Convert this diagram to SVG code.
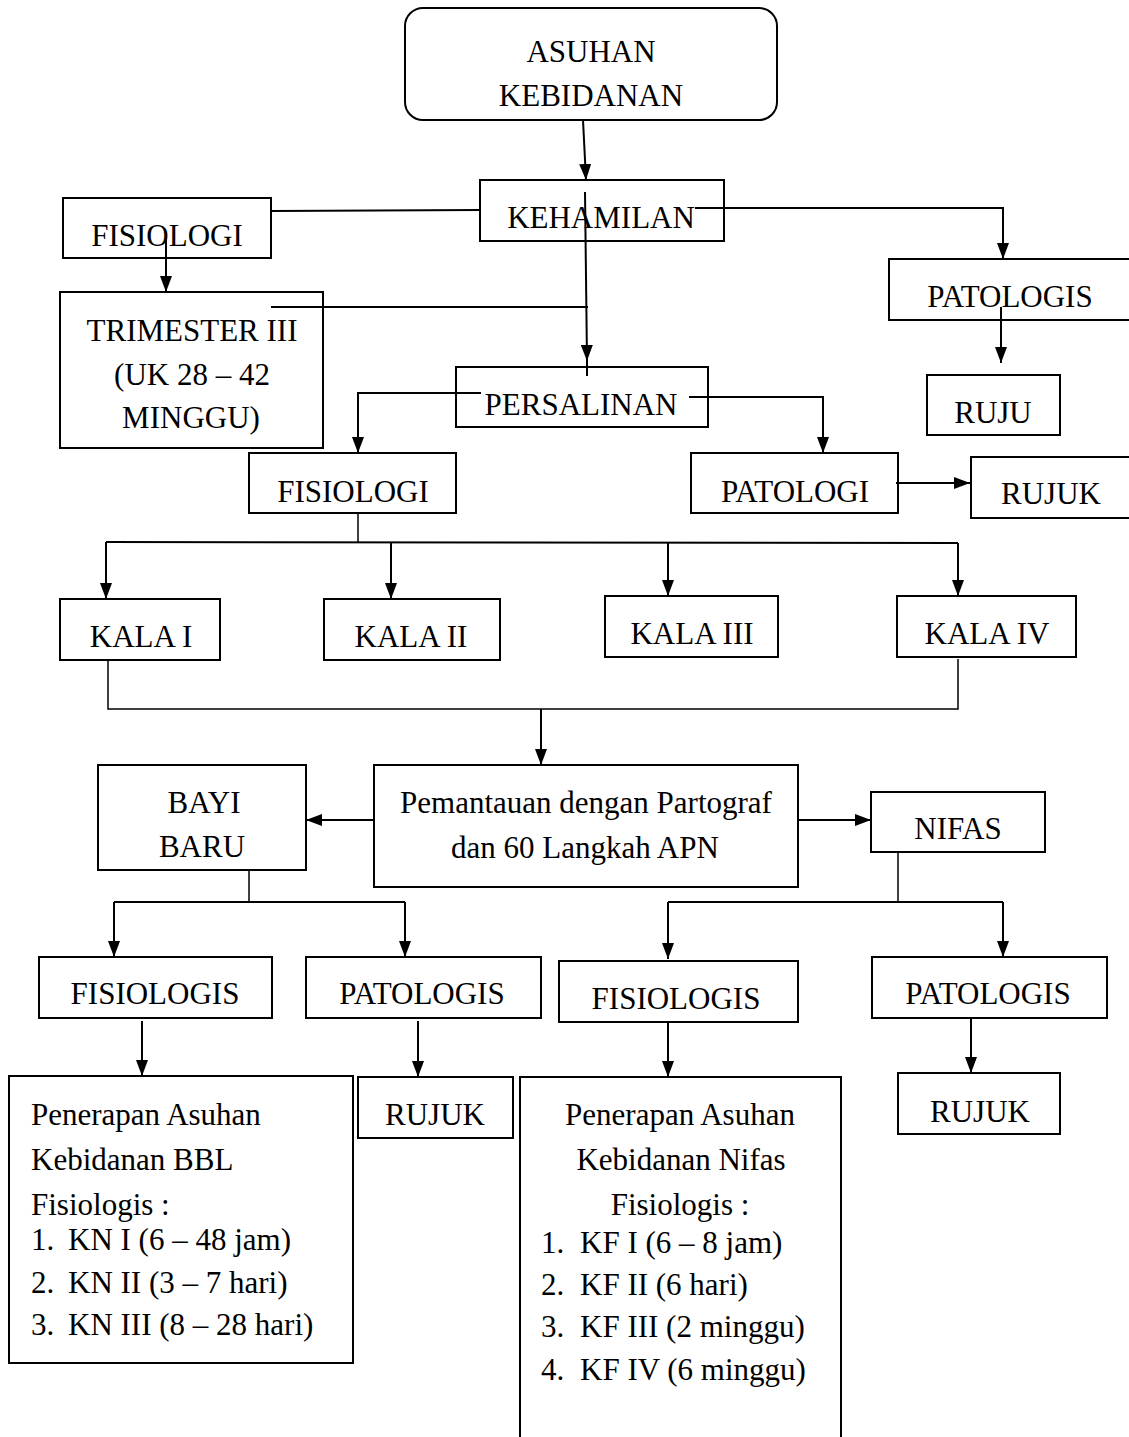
<svg xmlns="http://www.w3.org/2000/svg" width="1129" height="1437" viewBox="0 0 1129 1437">
<style>
.box{fill:#fff;stroke:#000;stroke-width:2}
.t{font-family:"Liberation Serif","Times New Roman",serif;font-size:31px;fill:#000}
.c{text-anchor:middle}
.ln{fill:none;stroke:#000;stroke-width:2}
.thin{fill:none;stroke:#000;stroke-width:1.5}
.ar{marker-end:url(#ah)}
</style>
<defs>
<marker id="ah" viewBox="0 0 16 12" refX="16" refY="6" markerWidth="16" markerHeight="12" markerUnits="userSpaceOnUse" orient="auto">
<path d="M0,0 L16,6 L0,12 z" fill="#000"/>
</marker>
</defs>
<rect width="1129" height="1437" fill="#fff"/>

<g id="n-asuhan"><rect class="box" x="405" y="8" width="372" height="112" rx="18"/>
<text class="t c" x="591" y="62">ASUHAN</text><text class="t c" x="591" y="106">KEBIDANAN</text></g>
<g id="n-kehamilan"><rect class="box" x="480" y="180" width="244" height="61"/><text class="t c" x="601" y="228">KEHAMILAN</text></g>
<g id="n-fisiologi1"><rect class="box" x="63" y="198" width="208" height="60"/><text class="t c" x="167" y="246">FISIOLOGI</text></g>
<g id="n-trimester"><rect class="box" x="60" y="292" width="263" height="156"/>
<text class="t c" x="192" y="341">TRIMESTER III</text><text class="t c" x="192" y="385">(UK 28 – 42</text><text class="t c" x="191" y="428">MINGGU)</text></g>
<g id="n-patologis1"><rect class="box" x="889" y="259" width="245" height="61"/><text class="t c" x="1010" y="307">PATOLOGIS</text></g>
<g id="n-ruju"><rect class="box" x="927" y="375" width="133" height="60"/><text class="t c" x="993" y="423">RUJU</text></g>
<g id="n-persalinan"><rect class="box" x="456" y="367" width="252" height="60"/><text class="t c" x="581" y="415">PERSALINAN</text></g>
<g id="n-fisiologi2"><rect class="box" x="249" y="453" width="207" height="60"/><text class="t c" x="353" y="502">FISIOLOGI</text></g>
<g id="n-patologi"><rect class="box" x="691" y="453" width="207" height="60"/><text class="t c" x="795" y="502">PATOLOGI</text></g>
<g id="n-rujuk1"><rect class="box" x="971" y="457" width="162" height="61"/><text class="t c" x="1051" y="504">RUJUK</text></g>
<g id="n-kala1"><rect class="box" x="60" y="599" width="160" height="61"/><text class="t c" x="141" y="647">KALA I</text></g>
<g id="n-kala2"><rect class="box" x="324" y="599" width="176" height="61"/><text class="t c" x="411" y="647">KALA II</text></g>
<g id="n-kala3"><rect class="box" x="605" y="596" width="173" height="61"/><text class="t c" x="692" y="644">KALA III</text></g>
<g id="n-kala4"><rect class="box" x="897" y="596" width="179" height="61"/><text class="t c" x="987" y="644">KALA IV</text></g>
<g id="n-bayi"><rect class="box" x="98" y="765" width="208" height="105"/>
<text class="t c" x="204" y="813">BAYI</text><text class="t c" x="202" y="857">BARU</text></g>
<g id="n-pemantauan"><rect class="box" x="374" y="765" width="424" height="122"/>
<text class="t c" x="586" y="813">Pemantauan dengan Partograf</text><text class="t c" x="585" y="858">dan 60 Langkah APN</text></g>
<g id="n-nifas"><rect class="box" x="871" y="792" width="174" height="60"/><text class="t c" x="958" y="839">NIFAS</text></g>
<g id="n-fisiologis-bbl"><rect class="box" x="39" y="957" width="233" height="61"/><text class="t c" x="155" y="1004">FISIOLOGIS</text></g>
<g id="n-patologis-bbl"><rect class="box" x="306" y="957" width="235" height="61"/><text class="t c" x="422" y="1004">PATOLOGIS</text></g>
<g id="n-fisiologis-nifas"><rect class="box" x="559" y="961" width="239" height="61"/><text class="t c" x="676" y="1009">FISIOLOGIS</text></g>
<g id="n-patologis-nifas"><rect class="box" x="872" y="957" width="235" height="61"/><text class="t c" x="988" y="1004">PATOLOGIS</text></g>
<g id="n-bbl"><rect class="box" x="9" y="1076" width="344" height="287"/>
<text class="t" x="31" y="1125">Penerapan Asuhan</text>
<text class="t" x="31" y="1170">Kebidanan BBL</text>
<text class="t" x="31" y="1215">Fisiologis :</text>
<text class="t" x="31" y="1250">1.</text><text class="t" x="68" y="1250">KN I (6 – 48 jam)</text>
<text class="t" x="31" y="1293">2.</text><text class="t" x="68" y="1293">KN II (3 – 7 hari)</text>
<text class="t" x="31" y="1335">3.</text><text class="t" x="68" y="1335">KN III (8 – 28 hari)</text></g>
<g id="n-rujuk2"><rect class="box" x="358" y="1077" width="155" height="61"/><text class="t c" x="435" y="1125">RUJUK</text></g>
<g id="n-nifas-asuhan"><rect class="box" x="520" y="1077" width="321" height="380"/>
<text class="t c" x="680" y="1125">Penerapan Asuhan</text>
<text class="t c" x="681" y="1170">Kebidanan Nifas</text>
<text class="t c" x="680" y="1215">Fisiologis :</text>
<text class="t" x="541" y="1253">1.</text><text class="t" x="580" y="1253">KF I (6 – 8 jam)</text>
<text class="t" x="541" y="1295">2.</text><text class="t" x="580" y="1295">KF II (6 hari)</text>
<text class="t" x="541" y="1337">3.</text><text class="t" x="580" y="1337">KF III (2 minggu)</text>
<text class="t" x="541" y="1380">4.</text><text class="t" x="580" y="1380">KF IV (6 minggu)</text></g>
<g id="n-rujuk3"><rect class="box" x="898" y="1073" width="162" height="61"/><text class="t c" x="980" y="1122">RUJUK</text></g>

<g id="connectors">
<path class="ln ar" d="M583,120 L586,180"/>
<path class="ln" d="M480,210 L272,211"/>
<path class="ln ar" d="M166,233 L166,292"/>
<path class="ln ar" d="M585,192 L587,361"/>
<path class="ln" d="M587,360 L587,376"/>
<path class="ln" d="M271,307 L588,307"/>
<path class="ln ar" d="M695,208 L1003,208 L1003,259"/>
<path class="ln ar" d="M1001,307 L1001,363"/>
<path class="ln ar" d="M481,393 L358,393 L358,453"/>
<path class="ln ar" d="M689,397 L823,397 L823,453"/>
<path class="ln ar" d="M896,483 L970,483"/>
<path class="thin" d="M358,513 L358,542"/>
<path class="ln" d="M106,542 L958,543"/>
<path class="ln ar" d="M106,542 L106,599"/>
<path class="ln ar" d="M391,542 L391,599"/>
<path class="ln ar" d="M668,543 L668,596"/>
<path class="ln ar" d="M958,543 L958,596"/>
<path class="thin" d="M108,660 L108,709 L958,709 L958,659"/>
<path class="ln ar" d="M541,709 L541,765"/>
<path class="ln ar" d="M374,820 L306,820"/>
<path class="ln ar" d="M798,820 L871,820"/>
<path class="thin" d="M249,870 L249,902"/>
<path class="ln" d="M114,902 L405,902"/>
<path class="ln ar" d="M114,902 L114,957"/>
<path class="ln ar" d="M405,902 L405,957"/>
<path class="thin" d="M898,852 L898,902"/>
<path class="ln" d="M668,902 L1003,902"/>
<path class="ln ar" d="M668,902 L668,959"/>
<path class="ln ar" d="M1003,902 L1003,957"/>
<path class="ln ar" d="M142,1021 L142,1076"/>
<path class="ln ar" d="M418,1021 L418,1077"/>
<path class="ln ar" d="M668,1022 L668,1077"/>
<path class="ln ar" d="M971,1018 L971,1073"/>
</g>
</svg>
